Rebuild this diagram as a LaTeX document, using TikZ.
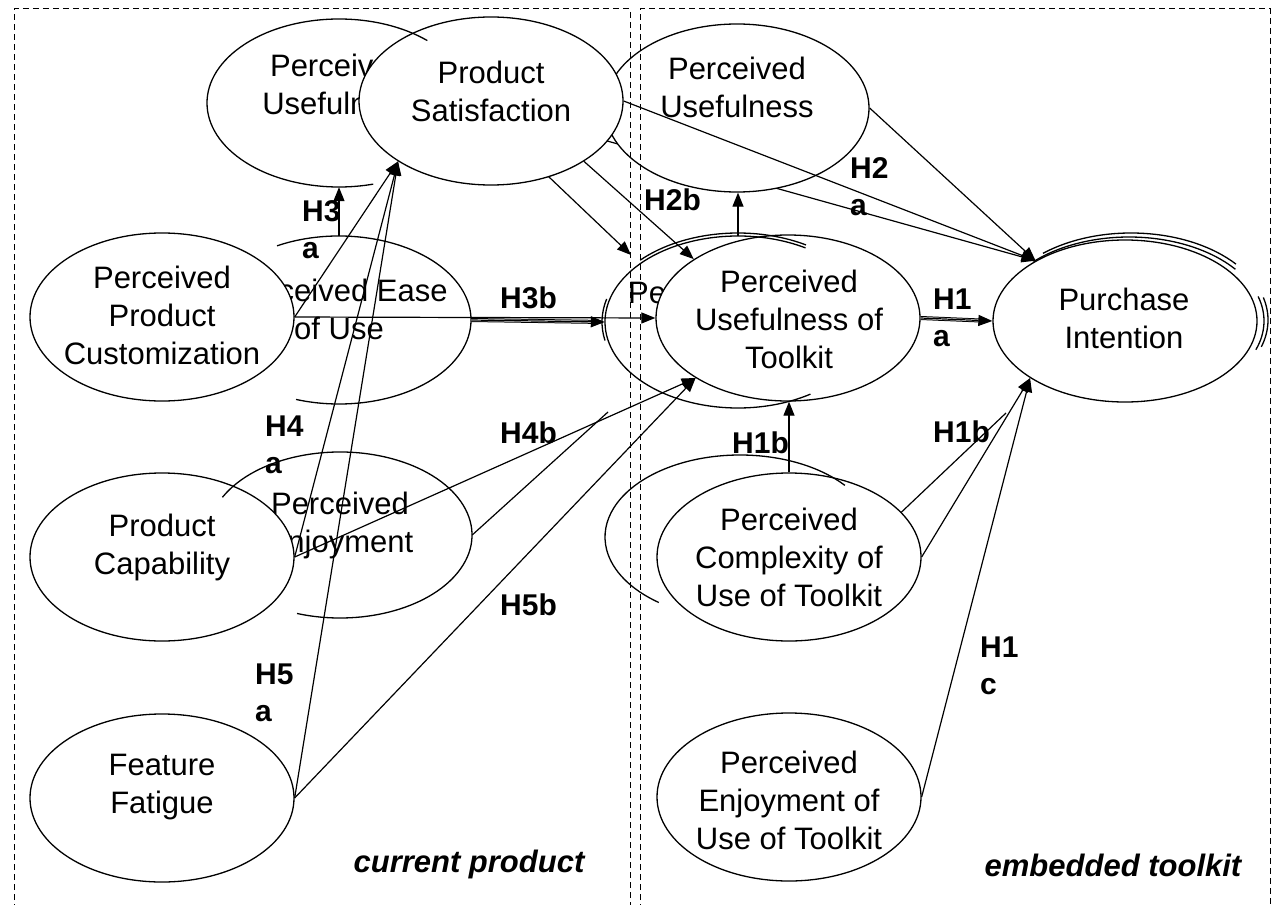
\documentclass[tikz,border=0pt]{standalone}
\usepackage{fontspec}
\setmainfont{Liberation Sans}
\usetikzlibrary{arrows.meta,calc,shapes.geometric}
\pgfdeclarelayer{paper}
\pgfdeclarelayer{back}
\pgfdeclarelayer{top}
\pgfsetlayers{paper,back,main,top}
\begin{document}
\begin{tikzpicture}[x=1pt,y=-1pt,
  oval/.style={ellipse, draw, fill=white, line width=1.3pt, minimum width=264pt, minimum height=168pt, inner sep=0pt},
  ghost/.style={ellipse, minimum width=264pt, minimum height=168pt, inner sep=0pt},
  words/.style={align=center, inner sep=0pt, font=\fontsize{31}{38}\selectfont},
  hyp/.style={align=left, anchor=north west, inner sep=0pt, font=\fontsize{30}{37}\selectfont\bfseries},
  region/.style={inner sep=0pt, font=\fontsize{31}{38}\selectfont\bfseries\itshape},
  link/.style={line width=1.2pt, -{Triangle[length=14pt,width=11pt]}},
  bare/.style={line width=1.2pt},
  rim/.style={line width=1.3pt},
  heavy/.style={line width=1pt, double, double distance=2pt, shorten >=12pt},
  zone/.style={line width=1pt, dash pattern=on 6pt off 4pt}
]
\useasboundingbox (0,0) rectangle (1273,904);
\begin{pgfonlayer}{paper}
  \fill[white] (0,0) rectangle (1273,904);
\end{pgfonlayer}

% outlines that are only partly drawn
\node[ghost] (pul) at (339,103) {};
\node[ghost] (peou) at (339,320) {};
\node[ghost, minimum height=166pt] (penj) at (340,535) {};
\node[ghost, minimum width=266pt, minimum height=172pt] (hid1) at (738,322) {};
\node[ghost, minimum width=270pt, minimum height=164pt] (hid2) at (740,537) {};
\coordinate (hidtip) at (631,255);
\coordinate (penjend) at (608,412);
\coordinate (hid2end) at (1006,413);

% upper row
\node[oval] (pur) at (737,108) {};
\node[words] (purt) at (737,87) {Perceived\\Usefulness};
\node[words] (pult) at (339,84) {Perceived\\Usefulness};
\node[oval] (ps) at (491,101) {};
\node[words] (pst) at (491,91) {Product\\Satisfaction};
\draw[rim] ($(pul)+(-48:132 and 84)$) arc[start angle=-48, end angle=-285, x radius=132, y radius=84];

% ease of use / customization
\node[words] (peout) at (339,309) {Perceived Ease\\of Use};
\node[oval] (ppc) at (162,317) {};
\node[words] (ppct) at (162,315) {Perceived\\Product\\Customization};
\draw[rim] ($(peou)+(-118:132 and 84)$) arc[start angle=-118, end angle=109, x radius=132, y radius=84];

% enjoyment / capability
\node[words] (penjt) at (340,525) {Perceived\\Enjoyment};
\node[oval] (pc) at (162,557) {};
\node[words] (pct) at (162,547) {Product\\Capability};
\draw[rim] ($(penj)+(-153:132 and 83)$) arc[start angle=-153, end angle=109, x radius=132, y radius=83];

\node[oval] (ff) at (162,798) {};
\node[words] (fft) at (162,787) {Feature\\Fatigue};

% toolkit side
\node[words, anchor=west] (hid1t) at (628,293) {Pe};
\node[oval, minimum height=166pt] (put) at (788,318) {};
\node[words] (putt) at (789,319) {Perceived\\Usefulness of\\Toolkit};
\draw[rim] ($(hid1)+(-59.5:133 and 86)$) arc[start angle=-59.5, end angle=-303, x radius=133, y radius=86];
\draw[rim] ($(hid1)+(-136:136 and 89)$) arc[start angle=-136, end angle=-60, x radius=136, y radius=89];
\draw[rim] ($(hid1)+(-165:136 and 89)$) arc[start angle=-165, end angle=-192, x radius=136, y radius=89];

\node[oval] (pcut) at (789,557) {};
\node[words] (pcutt) at (789,557) {Perceived\\Complexity of\\Use of Toolkit};
\draw[rim] ($(hid2)+(-39:135 and 82)$) arc[start angle=-39, end angle=-233, x radius=135, y radius=82];

\node[oval] (peut) at (789,797) {};
\node[words] (peutt) at (789,800) {Perceived\\Enjoyment of\\Use of Toolkit};

\node[oval, minimum height=162pt] (pi) at (1125,321) {};
\node[words] (pit) at (1124,318) {Purchase\\Intention};
\draw[rim] ($(pi)+(4,0)+(-135:135 and 84)$) arc[start angle=-135, end angle=-38, x radius=135, y radius=84];
\draw[rim] ($(pi)+(6,-1)+(-130:137 and 87)$) arc[start angle=-130, end angle=-40, x radius=137, y radius=87];
\draw[rim] ($(pi)+(4,0)+(-17:135 and 84)$) arc[start angle=-17, end angle=20, x radius=135, y radius=84];
\draw[rim] ($(pi)+(6,-1)+(-15:137 and 87)$) arc[start angle=-15, end angle=18, x radius=137, y radius=87];

% paths that run underneath the ovals
\begin{pgfonlayer}{back}
  \draw[link] (pul.east) -- (pi.146);
  \draw[link] (pul.east) -- (hidtip);
  \draw[bare] (hid2.east) -- (hid2end);
\end{pgfonlayer}

\begin{pgfonlayer}{top}
  % paths into product satisfaction
  \draw[link] (ppc.east) -- (ps.213);
  \draw[link] (pc.east) -- (ps.213);
  \draw[link] (ff.east) -- (ps.213);
  \draw[link] (peou.north) -- (pul.south);
  % paths into the toolkit constructs
  \draw[link] (ppc.east) -- (put.west);
  \draw[heavy] (peou.east) -- (hid1.west);
  \draw[link] (peou.east) -- (hid1.west);
  \draw[link] (ps.-33) -- (put.148);
  \draw[link] (pc.east) -- (put.213);
  \draw[link] (ff.east) -- (put.213);
  \draw[bare] (penj.east) -- (penjend);
  \draw[link] (hid1.north) -- (hid1.north |- pur.south);
  \draw[link] (pcut.north) -- (pcut.north |- put.south);
  % paths into purchase intention
  \draw[heavy] (put.east) -- (pi.west);
  \draw[link] (put.east) -- (pi.west);
  \draw[link] (pur.east) -- (pi.146);
  \draw[link] (ps.east) -- (pi.146);
  \draw[link] (pcut.east) -- (pi.211);
  \draw[link] (peut.east) -- (pi.211);

  % hypothesis labels
  \node[hyp] (h3a) at (302,200) {H3\\a};
  \node[hyp] (h3b) at (500,287) {H3b};
  \node[hyp] (h4a) at (265,416) {H4\\a};
  \node[hyp] (h4b) at (500,422) {H4b};
  \node[hyp] (h5a) at (255,664) {H5\\a};
  \node[hyp] (h5b) at (500,594) {H5b};
  \node[hyp] (h2b) at (644,189) {H2b};
  \node[hyp] (h2a) at (850,157) {H2\\a};
  \node[hyp] (h1a) at (933,289) {H1\\a};
  \node[hyp] (h1b) at (732,432) {H1b};
  \node[hyp] (h1bb) at (933,421) {H1b};
  \node[hyp] (h1c) at (980,637) {H1\\c};

  % the two dashed regions
  \draw[zone] (14,930) -- (14,9) -- (630,9) -- (630,930);
  \draw[zone] (640,930) -- (640,9) -- (1270,9) -- (1270,930);
  \node[region] (cur) at (469,864) {current product};
  \node[region] (emb) at (1113,865) {embedded toolkit};
\end{pgfonlayer}
\end{tikzpicture}
\end{document}
